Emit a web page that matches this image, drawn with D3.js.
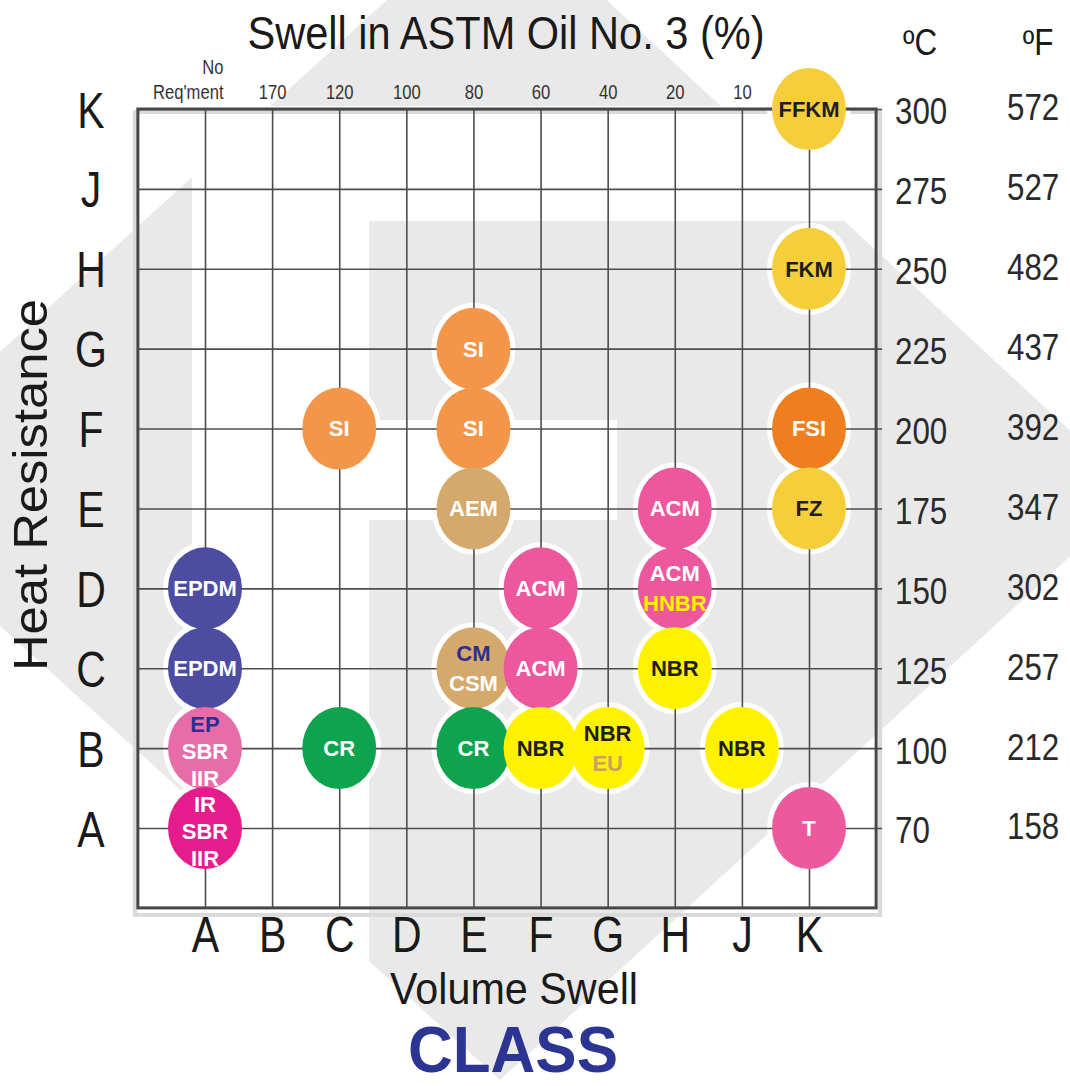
<!DOCTYPE html>
<html><head><meta charset="utf-8">
<script src="https://cdn.jsdelivr.net/npm/d3@7"></script>
<style>
html,body{margin:0;padding:0;background:#fff;}
svg{display:block;}
</style></head><body>
<svg id="chart" width="1070" height="1086"></svg>
<script>
// ---------- data ----------
const swellClasses = ["A","B","C","D","E","F","G","H","J","K"];
const swellPercent = ["Req'ment","170","120","100","80","60","40","20","10",""];
const heatClasses  = ["A","B","C","D","E","F","G","H","J","K"];
const tempC = ["70","100","125","150","175","200","225","250","275","300"];
const tempF = ["158","212","257","302","347","392","437","482","527","572"];

const polySwell  = ["K","K","K","K","K","E","E","C","E","E","E","C","F","F","F","G","H","H","H","J","A","A","A","A"];
const polyHeat   = ["K","H","F","E","A","G","F","F","E","C","B","B","D","C","B","B","E","D","C","B","D","C","B","A"];
const polyLabels = ["FFKM","FKM","FSI","FZ","T","SI","SI","SI","AEM","CM|CSM","CR","CR","ACM","ACM","NBR","NBR|EU","ACM","ACM|HNBR","NBR","NBR","EPDM","EPDM","EP|SBR|IIR","IR|SBR|IIR"];
const polyFill   = ["#f6ce3c","#f6ce3c","#ef7e20","#f6ce3c","#ec5a9d","#f4964a","#f4964a","#f4964a","#d4a96b","#d4a96b","#0ea34f","#0ea34f","#ec579d","#ec579d","#fff200","#fff200","#ec579d","#ec579d","#fff200","#fff200","#4c4ca0","#4c4ca0","#e96caa","#e41c8c"];
const polyInk    = ["#1e1e1e","#1e1e1e","#ffffff","#1e1e1e","#ffffff","#ffffff","#ffffff","#ffffff","#ffffff","#2b2f8f|#ffffff","#ffffff","#ffffff","#ffffff","#ffffff","#1e1e1e","#1e1e1e|#c9a35e","#ffffff","#ffffff|#fff200","#1e1e1e","#1e1e1e","#ffffff","#ffffff","#2b2f8f|#ffffff|#ffffff","#ffffff|#ffffff|#ffffff"];

// ---------- setup ----------
const svg = d3.select("#chart");
const FONT = "'Liberation Sans', Arial, Helvetica, sans-serif";
const INK = "#1a1a1a";

const x = d3.scalePoint().domain(swellClasses).range([205, 809]);
const y = d3.scalePoint().domain(heatClasses).range([828, 109]);
const sx = x.step(), sy = y.step();
const frameL = x("A") - sx, frameR = x("K") + sx;
const frameT = y("K"), frameB = y("A") + sy;
const frameW = frameR - frameL, frameH = frameB - frameT;

function condense(sel, f) {
  sel.each(function () {
    const w = this.getComputedTextLength();
    if (w > 0) {
      this.setAttribute("textLength", (w * f).toFixed(1));
      this.setAttribute("lengthAdjust", "spacingAndGlyphs");
    }
  });
}

// ---------- background watermark (ASTM style diamond) ----------
const bg = svg.append("g");
const GRAY = "#e9e9e9";
bg.append("path")
  .attr("d", "M498,-101 L1138,494 L500,1080 L-151,489 Z")
  .attr("fill", GRAY);
// white cut-outs
bg.append("rect").attr("x", 192).attr("y", frameT - 3).attr("width", frameR - 192).attr("height", 221 - frameT + 3).attr("fill", "#fff");
bg.append("rect").attr("x", 192).attr("y", frameT - 3).attr("width", 369 - 192).attr("height", 1086).attr("fill", "#fff");
bg.append("rect").attr("x", 369).attr("y", 420).attr("width", 617 - 369).attr("height", 100).attr("fill", "#fff");

// frame shadow
svg.append("rect")
  .attr("x", frameL - 3).attr("y", frameT + 3)
  .attr("width", frameW + 7).attr("height", frameH + 4)
  .attr("fill", "none").attr("stroke", "#dadada").attr("stroke-width", 4);

// ---------- bubble halos ----------
const bubbles = d3.range(polySwell.length).map(i => ({
  sw: polySwell[i], ht: polyHeat[i],
  lines: polyLabels[i].split("|"), inks: polyInk[i].split("|"), fill: polyFill[i]
}));
// draw upper rows first so lower rows overlap them
bubbles.sort((a, b) => d3.descending(heatClasses.indexOf(a.ht), heatClasses.indexOf(b.ht)) || d3.ascending(swellClasses.indexOf(a.sw), swellClasses.indexOf(b.sw)));

svg.append("g").selectAll("ellipse").data(bubbles).join("ellipse")
  .attr("cx", d => x(d.sw)).attr("cy", d => y(d.ht))
  .attr("rx", 42).attr("ry", 46).attr("fill", "#fff");

// ---------- grid ----------
const gridV = svg.append("g").attr("transform", `translate(0,${frameB})`)
  .call(d3.axisBottom(x).tickSize(-frameH).tickFormat(""));
const gridH = svg.append("g").attr("transform", `translate(${frameL},0)`)
  .call(d3.axisRight(y).tickSize(frameW + 6).tickFormat(""));
[gridV, gridH].forEach(g => {
  g.select(".domain").remove();
  g.selectAll("line").attr("stroke", "#4d4d4d").attr("stroke-width", 1.6);
});

svg.append("rect")
  .attr("x", frameL).attr("y", frameT).attr("width", frameW).attr("height", frameH)
  .attr("fill", "none").attr("stroke", "#474747").attr("stroke-width", 3);

// ---------- bubbles ----------
const bg2 = svg.append("g").selectAll("g").data(bubbles).join("g")
  .attr("transform", d => `translate(${x(d.sw)},${y(d.ht)})`);
bg2.append("ellipse").attr("rx", 37).attr("ry", 41).attr("fill", d => d.fill);
bg2.each(function (d) {
  const n = d.lines.length;
  const gap = n === 3 ? 27 : 30;
  const shift = n === 3 ? 3 : 0;
  d.lines.forEach((t, j) => {
    d3.select(this).append("text")
      .attr("x", 0).attr("y", (j - (n - 1) / 2) * gap + shift)
      .attr("dy", "0.36em")
      .attr("text-anchor", "middle")
      .attr("font-family", FONT).attr("font-weight", "bold").attr("font-size", 22)
      .attr("fill", d.inks[j] || d.inks[0])
      .text(t);
  });
});

// ---------- axes ----------
function styleAxis(g) {
  g.select(".domain").remove();
  g.selectAll(".tick line").remove();
  g.selectAll("text").attr("font-family", FONT).attr("fill", INK);
}

// bottom class letters
const axB = svg.append("g").attr("transform", "translate(0,934)")
  .call(d3.axisBottom(x).tickSize(0).tickPadding(0));
styleAxis(axB);
axB.selectAll("text").attr("y", 0).attr("dy", "0.36em").attr("font-size", 50);
condense(axB.selectAll("text"), 0.82);

// left class letters
const axL = svg.append("g").attr("transform", "translate(91,0)")
  .call(d3.axisLeft(y).tickSize(0).tickPadding(0));
styleAxis(axL);
axL.selectAll("text").attr("x", 0).attr("dy", "0.36em").attr("text-anchor", "middle").attr("font-size", 50);
condense(axL.selectAll("text"), 0.82);

// top swell percentages
const axT = svg.append("g").attr("transform", "translate(0,99)")
  .call(d3.axisTop(x).tickSize(0).tickPadding(0).tickFormat((d, i) => swellPercent[i]));
styleAxis(axT);
axT.selectAll("text").attr("y", 0).attr("dy", 0).attr("font-size", 20).attr("fill", "#333");
axT.selectAll(".tick").filter(d => d === "A").select("text").attr("text-anchor", "end").attr("x", 18);
axT.selectAll(".tick").filter(d => d === "A").append("text")
  .attr("x", 18).attr("y", -25).attr("text-anchor", "end")
  .attr("font-family", FONT).attr("font-size", 20).attr("fill", "#333").text("No");
condense(axT.selectAll("text"), 0.83);

// right: Celsius
const axC = svg.append("g").attr("transform", "translate(895,0)")
  .call(d3.axisRight(y).tickSize(0).tickPadding(0).tickFormat((d, i) => tempC[i]));
styleAxis(axC);
axC.selectAll("text").attr("x", 0).attr("y", 2).attr("dy", "0.36em").attr("font-size", 36).attr("fill", "#2a2a2a");
condense(axC.selectAll("text"), 0.87);

// right: Fahrenheit
const axF = svg.append("g").attr("transform", "translate(1007,0)")
  .call(d3.axisRight(y).tickSize(0).tickPadding(0).tickFormat((d, i) => tempF[i]));
styleAxis(axF);
axF.selectAll("text").attr("x", 0).attr("y", -2).attr("dy", "0.36em").attr("font-size", 36).attr("fill", "#2a2a2a");
condense(axF.selectAll("text"), 0.87);

// ---------- titles ----------
function label(txt, xp, yp, size, opts = {}) {
  const t = svg.append("text").attr("x", xp).attr("y", yp)
    .attr("text-anchor", "middle").attr("font-family", FONT)
    .attr("font-size", size).attr("fill", opts.fill || INK)
    .attr("font-weight", opts.weight || "normal").text(txt);
  if (opts.rotate) t.attr("transform", `rotate(${opts.rotate},${xp},${yp})`);
  if (opts.len) t.attr("textLength", opts.len).attr("lengthAdjust", "spacingAndGlyphs");
  else if (opts.f) condense(t, opts.f);
  return t;
}
label("Swell in ASTM Oil No. 3 (%)", 506, 49, 46, { len: 517 });
label("ºC", 920, 55, 36, { f: 0.87 });
label("ºF", 1038, 55, 36, { f: 0.87 });
label("Heat Resistance", 47, 485, 48, { rotate: -90, len: 372 });
label("Volume Swell", 514, 1004, 44, { len: 248 });
label("CLASS", 513, 1072, 64, { len: 210, weight: "bold", fill: "#2d3593" });
</script>
</body></html>
